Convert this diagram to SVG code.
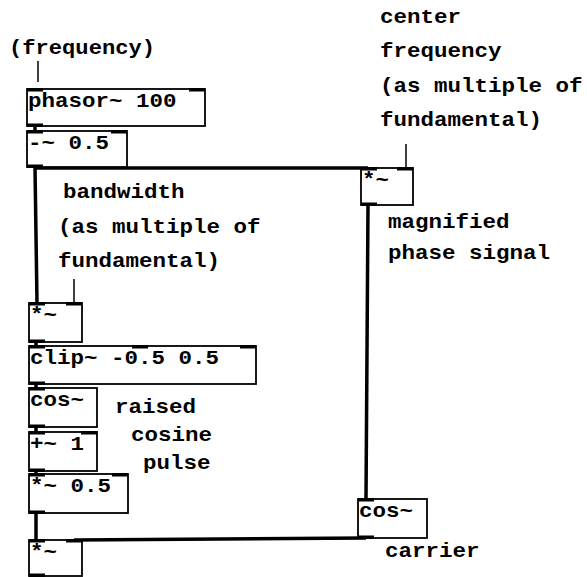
<svg xmlns="http://www.w3.org/2000/svg" width="587" height="577" viewBox="0 0 587 577">
<style>
.box{fill:#fff;stroke:#000;stroke-width:1.8}
.io{fill:#000}
.t{font-family:"Liberation Mono","Courier New",monospace;font-weight:bold;font-size:21px;fill:#000}
.sig{stroke:#000;stroke-width:3.5;fill:none}
.ctl{stroke:#000;stroke-width:1.5;fill:none}
</style>
<rect width="587" height="577" fill="#fff"/>
<g id="connectors">
<line class="sig" x1="35" y1="126" x2="35" y2="131"/>
<line class="sig" x1="35" y1="167" x2="37" y2="303"/>
<line class="sig" x1="35" y1="168" x2="368" y2="168"/>
<line class="sig" x1="368" y1="205" x2="366" y2="499"/>
<line class="sig" x1="36" y1="342" x2="36" y2="346"/>
<line class="sig" x1="36" y1="384" x2="36" y2="388"/>
<line class="sig" x1="36" y1="427" x2="36" y2="432"/>
<line class="sig" x1="36" y1="471" x2="36" y2="474"/>
<line class="sig" x1="36" y1="513" x2="36" y2="540"/>
<line class="sig" x1="366" y1="538" x2="74" y2="540"/>
<line class="ctl" x1="38" y1="61" x2="38" y2="82"/>
<line class="ctl" x1="406" y1="144" x2="406" y2="168"/>
<line class="ctl" x1="74" y1="279" x2="74" y2="303"/>
</g>
<g id="phasor">
<rect class="box" x="27" y="89" width="178" height="37"/>
<rect class="io" x="27" y="88" width="16" height="3.5"/>
<rect class="io" x="189" y="88" width="16" height="3.5"/>
<rect class="io" x="27" y="123.5" width="16" height="3.5"/>
<text class="t" x="28" y="107" textLength="148.5" lengthAdjust="spacingAndGlyphs">phasor~ 100</text>
</g>
<g id="minus">
<rect class="box" x="27" y="131" width="100" height="36"/>
<rect class="io" x="27" y="130" width="16" height="3.5"/>
<rect class="io" x="111" y="130" width="16" height="3.5"/>
<rect class="io" x="27" y="164.5" width="16" height="3.5"/>
<text class="t" x="28" y="149" textLength="81" lengthAdjust="spacingAndGlyphs">-~ 0.5</text>
</g>
<g id="mulR">
<rect class="box" x="361" y="168" width="52" height="37"/>
<rect class="io" x="361" y="167" width="16" height="3.5"/>
<rect class="io" x="397" y="167" width="16" height="3.5"/>
<rect class="io" x="361" y="202.5" width="16" height="3.5"/>
<text class="t" x="362" y="186" textLength="27" lengthAdjust="spacingAndGlyphs">*~</text>
</g>
<g id="mulL">
<rect class="box" x="29" y="303" width="53" height="39"/>
<rect class="io" x="29" y="302" width="16" height="3.5"/>
<rect class="io" x="66" y="302" width="16" height="3.5"/>
<rect class="io" x="29" y="339.5" width="16" height="3.5"/>
<text class="t" x="30" y="321" textLength="27" lengthAdjust="spacingAndGlyphs">*~</text>
</g>
<g id="clip">
<rect class="box" x="29" y="346" width="227" height="38"/>
<rect class="io" x="29" y="345" width="16" height="3.5"/>
<rect class="io" x="132" y="345" width="16" height="3.5"/>
<rect class="io" x="240" y="345" width="16" height="3.5"/>
<rect class="io" x="29" y="381.5" width="16" height="3.5"/>
<text class="t" x="30" y="364" textLength="189" lengthAdjust="spacingAndGlyphs">clip~ -0.5 0.5</text>
</g>
<g id="cos">
<rect class="box" x="29" y="388" width="68" height="39"/>
<rect class="io" x="29" y="387" width="16" height="3.5"/>
<rect class="io" x="29" y="424.5" width="16" height="3.5"/>
<text class="t" x="30" y="406" textLength="54" lengthAdjust="spacingAndGlyphs">cos~</text>
</g>
<g id="plus">
<rect class="box" x="29" y="432" width="68" height="39"/>
<rect class="io" x="29" y="431" width="16" height="3.5"/>
<rect class="io" x="81" y="431" width="16" height="3.5"/>
<rect class="io" x="29" y="468.5" width="16" height="3.5"/>
<text class="t" x="30" y="450" textLength="54" lengthAdjust="spacingAndGlyphs">+~ 1</text>
</g>
<g id="mul05">
<rect class="box" x="29" y="474" width="99" height="39"/>
<rect class="io" x="29" y="473" width="16" height="3.5"/>
<rect class="io" x="112" y="473" width="16" height="3.5"/>
<rect class="io" x="29" y="510.5" width="16" height="3.5"/>
<text class="t" x="30" y="492" textLength="81" lengthAdjust="spacingAndGlyphs">*~ 0.5</text>
</g>
<g id="mulB">
<rect class="box" x="29" y="540" width="53" height="36"/>
<rect class="io" x="29" y="539" width="16" height="3.5"/>
<rect class="io" x="66" y="539" width="16" height="3.5"/>
<rect class="io" x="29" y="573.5" width="16" height="3.5"/>
<text class="t" x="30" y="558" textLength="27" lengthAdjust="spacingAndGlyphs">*~</text>
</g>
<g id="cosR">
<rect class="box" x="358" y="499" width="69" height="39"/>
<rect class="io" x="358" y="498" width="16" height="3.5"/>
<rect class="io" x="358" y="535.5" width="16" height="3.5"/>
<text class="t" x="359" y="517" textLength="54" lengthAdjust="spacingAndGlyphs">cos~</text>
</g>
<g id="comment-frequency">
<text class="t" x="9" y="54" textLength="146" lengthAdjust="spacingAndGlyphs">(frequency)</text>
</g>
<g id="comment-center">
<text class="t" x="380" y="23" textLength="81" lengthAdjust="spacingAndGlyphs">center</text>
<text class="t" x="380" y="57" textLength="121.5" lengthAdjust="spacingAndGlyphs">frequency</text>
<text class="t" x="380" y="92" textLength="202.5" lengthAdjust="spacingAndGlyphs">(as multiple of</text>
<text class="t" x="380" y="126" textLength="162" lengthAdjust="spacingAndGlyphs">fundamental)</text>
</g>
<g id="comment-bandwidth">
<text class="t" x="63" y="198" textLength="121.5" lengthAdjust="spacingAndGlyphs">bandwidth</text>
<text class="t" x="58" y="233" textLength="202.5" lengthAdjust="spacingAndGlyphs">(as multiple of</text>
<text class="t" x="58" y="267" textLength="162" lengthAdjust="spacingAndGlyphs">fundamental)</text>
</g>
<g id="comment-magnified">
<text class="t" x="388" y="228" textLength="121.5" lengthAdjust="spacingAndGlyphs">magnified</text>
<text class="t" x="388" y="259" textLength="162" lengthAdjust="spacingAndGlyphs">phase signal</text>
</g>
<g id="comment-raised">
<text class="t" x="115" y="413" textLength="81" lengthAdjust="spacingAndGlyphs">raised</text>
<text class="t" x="131" y="441" textLength="81" lengthAdjust="spacingAndGlyphs">cosine</text>
<text class="t" x="143" y="469" textLength="67.5" lengthAdjust="spacingAndGlyphs">pulse</text>
</g>
<g id="comment-carrier">
<text class="t" x="385" y="557" textLength="94.5" lengthAdjust="spacingAndGlyphs">carrier</text>
</g>
</svg>
